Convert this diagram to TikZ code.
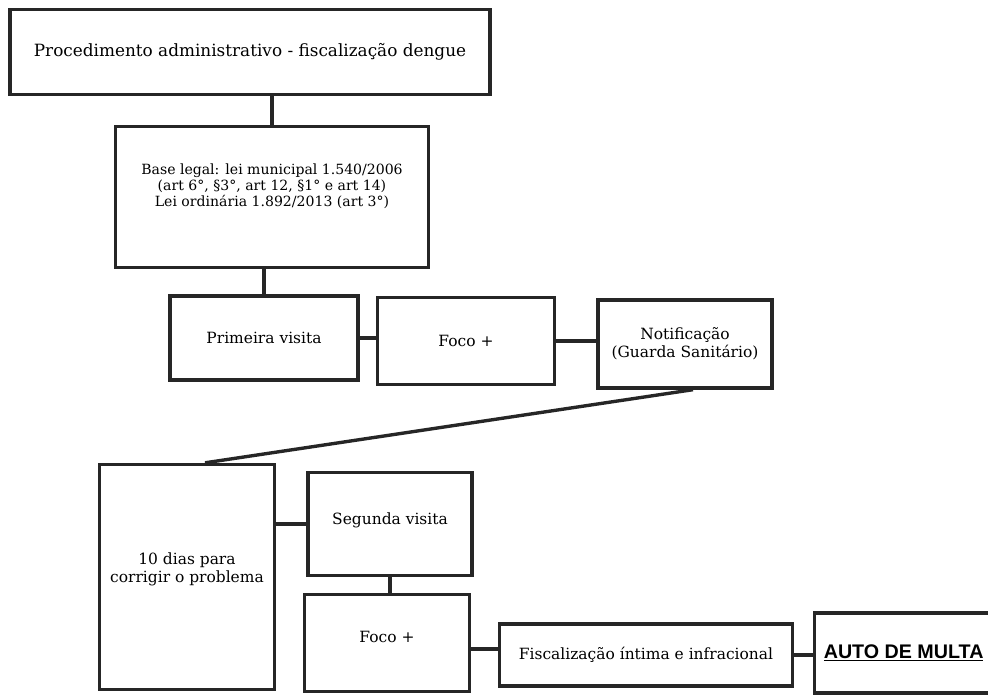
\documentclass[tikz,border=0pt]{standalone}
\usepackage{fontspec}
\setmainfont{DejaVu Serif}
\newfontfamily\multafont{Liberation Sans}
\usepackage{tikz}

\begin{document}
\begin{tikzpicture}[x=0.025cm,y=-0.025cm,
  flowbox/.style 2 args={draw=black!85,line width=2.4pt,fill=white,
    minimum width=#1*0.025cm,minimum height=#2*0.025cm,inner sep=0pt,
    align=center,font=\fontsize{11}{13}\selectfont},
  link/.style={draw=black!85,line width=2.4pt},
  boxtext/.style={align=center,font=\fontsize{11}{13}\selectfont}]
\useasboundingbox[fill=white](0,0) rectangle (988,697);
\node[flowbox={480}{85},font=\fontsize{12}{14}\selectfont](P)at(250,52){Procedimento administrativo - fiscalização dengue};
\node[flowbox={313}{141},label={[boxtext,font=\fontsize{10}{11.4}\selectfont,anchor=north,yshift=-0.85cm]north:Base legal: lei municipal 1.540/2006\\(art 6°, §3°, art 12, §1° e art 14)\\Lei ordinária 1.892/2013 (art 3°)}](B)at(272,197){};
\node[flowbox={188}{84}](V1)at(264,338){Primeira visita};
\node[flowbox={177}{87}](F1)at(466,341){Foco +};
\node[flowbox={174}{88}](N)at(685,344){Notificação\\(Guarda Sanitário)};
\node[flowbox={175}{225},label={[boxtext,yshift=0.2cm]center:10 dias para\\corrigir o problema}](D)at(187,577){};
\node[flowbox={164}{103},label={[boxtext,yshift=0.1cm]center:Segunda visita}](V2)at(390,524){};
\node[flowbox={165}{97},label={[boxtext,yshift=0.15cm]center:Foco +}](F2)at(387,643){};
\node[flowbox={293}{62}](I)at(646,655){Fiscalização íntima e infracional};
\node[flowbox={185}{80},label={[anchor=west,xshift=0.15cm,font=\multafont\bfseries\fontsize{14}{16}\selectfont]west:\underline{AUTO DE MULTA}}](A)at(907,653){};
\draw[link](B.north)--(B.north|-P.south);
\draw[link](V1.north)--(V1.north|-B.south);
\draw[link](V1.east)--(V1.east-|F1.west);
\draw[link](F1.east)--(F1.east-|N.west);
\draw[link]([xshift=0.2cm]N.south)--([xshift=0.45cm]D.north);
\draw[link](V2.west)--(V2.west-|D.east);
\draw[link](V2.south)--(V2.south|-F2.north);
\draw[link]([yshift=0.15cm]I.west)--([yshift=0.15cm]I.west-|F2.east);
\draw[link](I.east)--(I.east-|A.west);
\end{tikzpicture}
\end{document}
